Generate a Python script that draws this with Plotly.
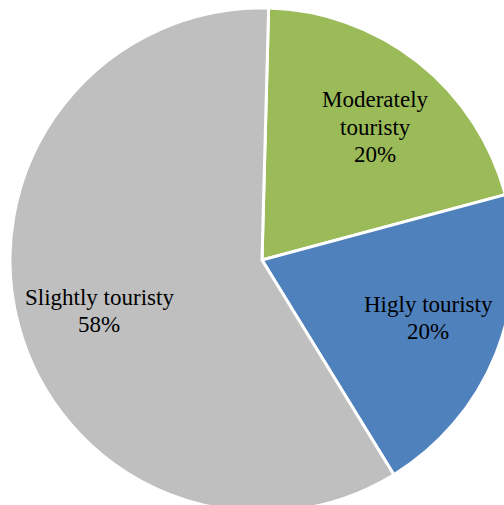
import plotly.graph_objects as go

labels = ["Moderately touristy", "Higly touristy", "Slightly touristy"]
label_lines = [["Moderately", "touristy"], ["Higly touristy"], ["Slightly touristy"]]
values = [20, 20, 58]
colors = ["#9BBB59", "#4F81BD", "#BFBFBF"]

W, H = 520, 520
cx, cy, r = 262, 260, 252
label_pos = [(375, 127), (428, 318), (99, 311)]
line_gap = 27.5

fig = go.Figure(go.Pie(
    labels=labels,
    values=values,
    sort=False,
    direction="clockwise",
    rotation=1.5,
    marker=dict(colors=colors, line=dict(color="white", width=3)),
    textinfo="none",
    hoverinfo="label+value",
    domain=dict(x=[(cx - r) / W, (cx + r) / W], y=[1 - (cy + r) / H, 1 - (cy - r) / H]),
    showlegend=False,
))

for lines, v, (px, py) in zip(label_lines, values, label_pos):
    all_lines = lines + [f"{v}%"]
    n = len(all_lines)
    for i, t in enumerate(all_lines):
        ly = py + (i - (n - 1) / 2) * line_gap
        fig.add_annotation(
            x=px / W, y=1 - ly / H, xref="paper", yref="paper",
            text=t, showarrow=False,
            font=dict(family="Liberation Serif", size=23, color="black"),
            xanchor="center", yanchor="middle", align="center",
        )

fig.update_layout(
    width=W, height=H,
    margin=dict(l=0, r=0, t=0, b=0),
    paper_bgcolor="white", plot_bgcolor="white",
)
fig.write_html("out.html")
